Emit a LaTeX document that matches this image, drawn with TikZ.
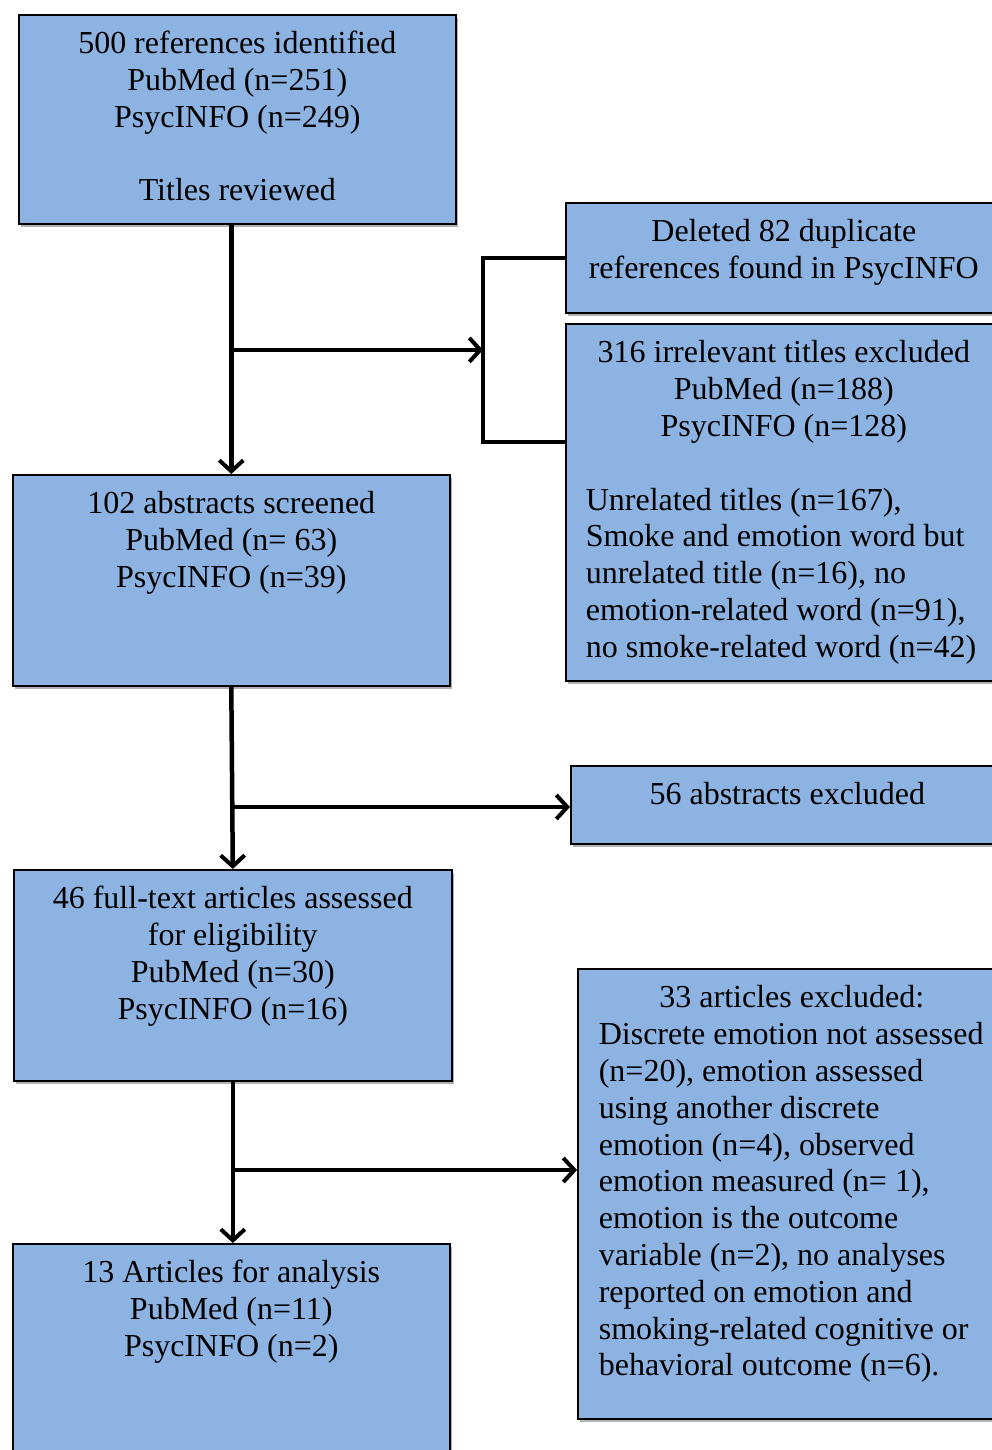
\documentclass[tikz,border=0pt]{standalone}
\usepackage{fontspec}
\setmainfont[Ligatures=CommonOff]{Liberation Serif}
\usetikzlibrary{arrows.meta,shadows,calc}
\definecolor{boxblue}{RGB}{141,179,226}
\newcommand\cbox[3]{\parbox[t][#2pt][t]{#1pt}{\centering\rule{0pt}{39pt}#3}}
\tikzset{
  box/.style={draw=black, line width=1.6pt, fill=boxblue, inner sep=0pt, anchor=north west,
    drop shadow={shadow xshift=2pt, shadow yshift=-3pt, opacity=0.3, fill=black}},
  conn/.style={line width=4.5pt, draw=black},
  arr/.style={conn, -{Straight Barb[length=11pt, width=24pt, line width=4pt]}}
}
\begin{document}
\begin{tikzpicture}[x=1pt, y=-1pt, font=\fontsize{32}{36.8}\selectfont]
\useasboundingbox (0,0) rectangle (992,1450);
\fill[white] (0,0) rectangle (992,1450);

\node[box] (A) at (18,14) {\cbox{437}{209}{500 references identified\\PubMed (n=251)\\PsycINFO (n=249)\\[36.8pt]Titles reviewed}};
\node[box] (B) at (565,202) {\cbox{436}{110}{Deleted 82 duplicate\\references found in PsycINFO}};
\node[box] (C) at (565,323) {\parbox[t][357pt][t]{436pt}{{\centering\rule{0pt}{39pt}316 irrelevant titles excluded\\PubMed (n=188)\\PsycINFO (n=128)\par}\vspace{36.8pt}{\raggedright\leftskip=20pt Unrelated titles (n=167),\\Smoke and emotion word but\\unrelated title (n=16), no\\emotion-related word (n=91),\\no smoke-related word (n=42)\par}}};
\node[box] (D) at (12,474) {\cbox{437}{211}{102 abstracts screened\\PubMed (n= 63)\\PsycINFO (n=39)}};
\node[box] (E) at (570,765) {\cbox{433}{78}{56 abstracts excluded}};
\node[box] (F) at (13,869) {\cbox{438}{211}{46 full-text articles assessed\\for eligibility\\PubMed (n=30)\\PsycINFO (n=16)}};
\node[box] (G) at (577,968) {\parbox[t][450pt][t]{428pt}{{\centering\rule{0pt}{39pt}33 articles excluded:\par}{\raggedright\leftskip=21pt Discrete emotion not assessed\\(n=20), emotion assessed\\using another discrete\\emotion (n=4), observed\\emotion measured (n= 1),\\emotion is the outcome\\variable (n=2), no analyses\\reported on emotion and\\smoking-related cognitive or\\behavioral outcome (n=6).\par}}};
\node[box] (H) at (12,1243) {\cbox{437}{230}{13 Articles for analysis\\PubMed (n=11)\\PsycINFO (n=2)}};

% first stage
\coordinate (Cj) at ($(C.north west)+(0,119)$);
\draw[conn] (B.west) -- ++(-82,0) coordinate (bt) |- (Cj);
\coordinate (m1) at ($(bt)!0.5!(bt |- Cj)$);
\draw[arr] (A.south -| D.north) -- (D.north);
\draw[arr] (m1 -| D.north) -- (m1);

% second stage
\coordinate (Ej) at ($(E.north west)+(0,42)$);
\coordinate (Dm) at ($(D.south)!0.68!(F.north)$);
\draw[arr] (D.south) -- (F.north);
\draw[arr] (Dm |- Ej) -- (Ej);

% third stage
\coordinate (Gj) at ($(G.north west)+(0,202)$);
\draw[arr] (F.south) -- (F.south |- H.north);
\draw[arr] (Gj -| F.south) -- (Gj);
\end{tikzpicture}
\end{document}
